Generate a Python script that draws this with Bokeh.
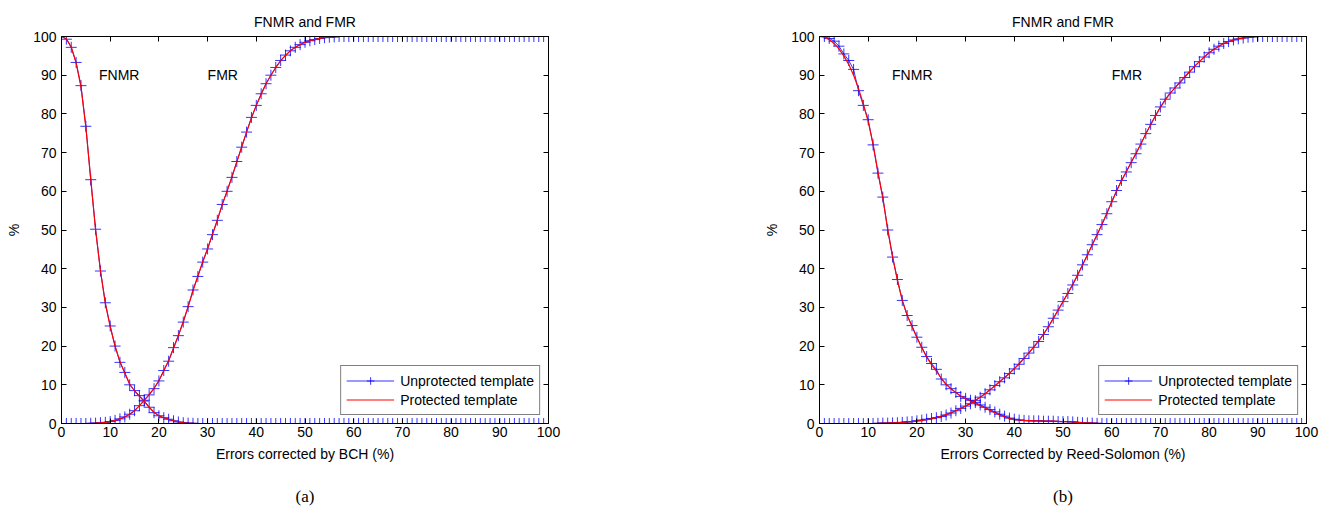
from bokeh.plotting import figure
from bokeh.models import Range1d, LinearAxis, Legend, LegendItem, Title, FixedTicker
from bokeh.layouts import row
from bokeh.embed import file_html
from bokeh.resources import INLINE
from bokeh.core.properties import value

# ---------------- data ----------------
errors_pct = list(range(0, 101))
x_ticks = [0, 10, 20, 30, 40, 50, 60, 70, 80, 90, 100]
y_ticks = [0, 10, 20, 30, 40, 50, 60, 70, 80, 90, 100]

# (a) BCH
bch_fnmr_unprot = [
    100, 99.3, 97.2, 93.3, 87.3, 76.8, 63.0, 50.2, 39.4, 31.2,
    25.2, 20.0, 15.8, 13.2, 10.0, 8.5, 7.2, 5.8, 4.2, 2.8,
    2.0, 1.5, 1.1, 0.7, 0.4, 0.2, 0.1, 0.05, 0, 0,
    0, 0, 0, 0, 0, 0, 0, 0, 0, 0,
    0, 0, 0, 0, 0, 0, 0, 0, 0, 0,
    0, 0, 0, 0, 0, 0, 0, 0, 0, 0,
    0, 0, 0, 0, 0, 0, 0, 0, 0, 0,
    0, 0, 0, 0, 0, 0, 0, 0, 0, 0,
    0, 0, 0, 0, 0, 0, 0, 0, 0, 0,
    0, 0, 0, 0, 0, 0, 0, 0, 0, 0,
    0]
bch_fmr_unprot = [
    0, 0, 0, 0, 0, 0, 0.05, 0.1, 0.2, 0.3,
    0.5, 0.8, 1.2, 1.7, 2.4, 3.3, 4.6, 6.0, 7.4, 9.0,
    11.0, 13.7, 16.1, 19.6, 22.7, 26.2, 30.2, 34.5, 38.0, 41.7,
    45.1, 48.8, 52.5, 56.6, 60.0, 63.6, 67.7, 71.4, 75.3, 79.1,
    82.2, 85.2, 87.8, 90.0, 92.0, 93.8, 95.2, 96.3, 97.2, 97.9,
    98.5, 98.9, 99.2, 99.5, 99.7, 99.8, 99.9, 100, 100, 100,
    100, 100, 100, 100, 100, 100, 100, 100, 100, 100,
    100, 100, 100, 100, 100, 100, 100, 100, 100, 100,
    100, 100, 100, 100, 100, 100, 100, 100, 100, 100,
    100, 100, 100, 100, 100, 100, 100, 100, 100, 100,
    100]
bch_fnmr_prot = [
    100, 99.4, 97.3, 93.2, 87.0, 76.6, 63.2, 50.0, 39.5, 31.0,
    25.0, 20.0, 16.0, 13.0, 10.2, 8.4, 7.0, 5.7, 4.2, 2.9,
    2.0, 1.5, 1.1, 0.7, 0.4, 0.2, 0.1, 0.05, 0, 0,
    0, 0, 0, 0, 0, 0, 0, 0, 0, 0,
    0, 0, 0, 0, 0, 0, 0, 0, 0, 0,
    0, 0, 0, 0, 0, 0, 0, 0, 0, 0,
    0, 0, 0, 0, 0, 0, 0, 0, 0, 0,
    0, 0, 0, 0, 0, 0, 0, 0, 0, 0,
    0, 0, 0, 0, 0, 0, 0, 0, 0, 0,
    0, 0, 0, 0, 0, 0, 0, 0, 0, 0,
    0]
bch_fmr_prot = [
    0, 0, 0, 0, 0, 0, 0.05, 0.1, 0.2, 0.3,
    0.5, 0.8, 1.2, 1.7, 2.4, 3.3, 4.6, 6.0, 7.5, 9.1,
    11.1, 13.6, 16.3, 19.4, 22.8, 26.3, 30.2, 34.3, 38.1, 41.8,
    45.2, 48.9, 52.6, 56.5, 60.1, 63.8, 67.6, 71.5, 75.3, 78.9,
    82.2, 85.1, 87.8, 90.0, 92.0, 93.7, 95.1, 96.3, 97.2, 97.9,
    98.5, 98.9, 99.2, 99.5, 99.7, 99.8, 99.9, 100, 100, 100,
    100, 100, 100, 100, 100, 100, 100, 100, 100, 100,
    100, 100, 100, 100, 100, 100, 100, 100, 100, 100,
    100, 100, 100, 100, 100, 100, 100, 100, 100, 100,
    100, 100, 100, 100, 100, 100, 100, 100, 100, 100,
    100]

# (b) Reed-Solomon
rs_fnmr_unprot = [
    100, 100, 99.5, 98.8, 97.5, 95.5, 93.8, 91.5, 86.0, 82.2,
    78.5, 72.0, 64.7, 58.5, 50.0, 43.0, 37.2, 31.8, 27.9, 25.3,
    22.3, 19.7, 17.3, 15.5, 14.0, 11.5, 10.0, 9.0, 8.0, 7.0,
    6.5, 6.0, 5.4, 4.8, 4.2, 3.6, 3.0, 2.4, 1.9, 1.4,
    1.1, 0.9, 0.8, 0.7, 0.7, 0.7, 0.6, 0.6, 0.6, 0.5,
    0.5, 0.5, 0.4, 0.3, 0.2, 0.15, 0.1, 0.05, 0, 0,
    0, 0, 0, 0, 0, 0, 0, 0, 0, 0,
    0, 0, 0, 0, 0, 0, 0, 0, 0, 0,
    0, 0, 0, 0, 0, 0, 0, 0, 0, 0,
    0, 0, 0, 0, 0, 0, 0, 0, 0, 0,
    0]
rs_fmr_unprot = [
    0, 0, 0, 0, 0, 0, 0, 0, 0, 0,
    0, 0, 0.05, 0.1, 0.1, 0.15, 0.2, 0.3, 0.4, 0.5,
    0.7, 0.9, 1.1, 1.3, 1.5, 1.8, 2.2, 2.7, 3.3, 3.9,
    4.5, 5.1, 5.9, 6.8, 7.7, 8.7, 9.8, 10.8, 11.8, 12.9,
    14.1, 15.3, 16.8, 18.2, 19.7, 21.2, 23.0, 25.0, 27.2, 29.3,
    31.5, 33.6, 35.8, 38.3, 41.0, 43.6, 46.2, 48.8, 51.4, 54.2,
    57.3, 60.2, 62.8, 65.0, 67.4, 69.7, 72.2, 74.9, 77.3, 79.6,
    81.8, 83.8, 85.4, 86.7, 88.0, 89.4, 90.8, 92.2, 93.5, 94.7,
    95.8, 96.7, 97.5, 98.2, 98.7, 99.1, 99.4, 99.6, 99.8, 99.9,
    100, 100, 100, 100, 100, 100, 100, 100, 100, 100,
    100]
rs_fnmr_prot = [
    100, 99.8, 99.2, 98.2, 96.8, 95.0, 92.8, 90.0, 86.6, 82.6,
    78.0, 72.2, 65.0, 58.3, 50.3, 43.2, 37.0, 31.8, 28.0, 25.0,
    22.2, 19.6, 17.2, 15.2, 13.5, 11.7, 10.2, 9.0, 8.0, 7.1,
    6.4, 5.8, 5.2, 4.6, 4.0, 3.4, 2.8, 2.2, 1.7, 1.3,
    1.0, 0.9, 0.8, 0.75, 0.7, 0.7, 0.65, 0.6, 0.6, 0.55,
    0.5, 0.45, 0.4, 0.3, 0.2, 0.15, 0.1, 0.05, 0, 0,
    0, 0, 0, 0, 0, 0, 0, 0, 0, 0,
    0, 0, 0, 0, 0, 0, 0, 0, 0, 0,
    0, 0, 0, 0, 0, 0, 0, 0, 0, 0,
    0, 0, 0, 0, 0, 0, 0, 0, 0, 0,
    0]
rs_fmr_prot = [
    0, 0, 0, 0, 0, 0, 0, 0, 0, 0,
    0, 0, 0.05, 0.1, 0.1, 0.15, 0.2, 0.3, 0.4, 0.5,
    0.6, 0.8, 1.0, 1.2, 1.5, 1.9, 2.3, 2.8, 3.3, 3.9,
    4.5, 5.2, 6.0, 6.8, 7.7, 8.7, 9.7, 10.8, 11.9, 13.0,
    14.2, 15.5, 16.9, 18.3, 19.8, 21.4, 23.1, 25.0, 27.1, 29.3,
    31.5, 33.7, 36.0, 38.4, 40.9, 43.5, 46.1, 48.8, 51.5, 54.3,
    57.2, 60.0, 62.7, 65.1, 67.5, 69.9, 72.3, 74.8, 77.2, 79.5,
    81.7, 83.6, 85.3, 86.8, 88.2, 89.6, 91.0, 92.3, 93.5, 94.7,
    95.8, 96.7, 97.5, 98.2, 98.7, 99.1, 99.4, 99.6, 99.8, 99.9,
    100, 100, 100, 100, 100, 100, 100, 100, 100, 100,
    100]

FONT = "Liberation Sans"
BLUE = "#0000ff"
RED = "#ff0000"


def make_panel(xlabel, caption, fnmr_u, fmr_u, fnmr_p, fmr_p,
               fnmr_lx, fmr_lx, border_right):
    p = figure(output_backend="svg", toolbar_location=None,
               frame_width=487, frame_height=387,
               x_range=Range1d(0, 100), y_range=Range1d(0, 100),
               min_border_left=61, min_border_right=border_right,
               min_border_top=36, min_border_bottom=93,
               x_axis_location=None, y_axis_location=None)
    p.grid.visible = False
    p.outline_line_color = "black"
    p.outline_line_width = 1
    p.background_fill_color = "white"
    p.border_fill_color = "white"

    p.title = Title(text="FNMR and FMR", align="center",
                    text_font=FONT, text_font_size="14px",
                    text_font_style="normal", text_color="black",
                    standoff=14)

    # main axes
    xa = LinearAxis(ticker=FixedTicker(ticks=x_ticks), axis_label=xlabel)
    ya = LinearAxis(ticker=FixedTicker(ticks=y_ticks), axis_label="%")
    for ax in (xa, ya):
        ax.major_tick_in = 5
        ax.major_tick_out = 0
        ax.minor_tick_in = 0
        ax.minor_tick_out = 0
        ax.axis_line_color = "black"
        ax.major_tick_line_color = "black"
        ax.major_label_text_font = FONT
        ax.major_label_text_font_size = "14px"
        ax.major_label_text_color = "black"
        ax.axis_label_text_font = FONT
        ax.axis_label_text_font_size = "14px"
        ax.axis_label_text_font_style = "normal"
        ax.axis_label_text_color = "black"
    xa.major_label_standoff = 3
    xa.axis_label_standoff = 6
    ya.major_label_standoff = 5
    ya.axis_label_standoff = 8
    p.add_layout(xa, "below")
    p.add_layout(ya, "left")

    # tick-only box axes (top / right)
    xt = LinearAxis(ticker=FixedTicker(ticks=x_ticks))
    yr = LinearAxis(ticker=FixedTicker(ticks=y_ticks))
    for ax in (xt, yr):
        ax.major_tick_in = 5
        ax.major_tick_out = 0
        ax.minor_tick_in = 0
        ax.minor_tick_out = 0
        ax.axis_line_color = "black"
        ax.major_label_text_font_size = "0px"
        ax.major_label_text_color = None
        ax.major_label_standoff = 0
    p.add_layout(xt, "above")
    p.add_layout(yr, "right")

    # unprotected (blue, + markers)
    lu1 = p.line(errors_pct, fnmr_u, line_color=BLUE, line_width=1, line_alpha=0.8)
    su1 = p.scatter(errors_pct, fnmr_u, marker="cross", size=11, line_color=BLUE,
                    line_width=1, line_alpha=0.8)
    lu2 = p.line(errors_pct, fmr_u, line_color=BLUE, line_width=1, line_alpha=0.8)
    su2 = p.scatter(errors_pct, fmr_u, marker="cross", size=11, line_color=BLUE,
                    line_width=1, line_alpha=0.8)
    # protected (red line)
    lp1 = p.line(errors_pct, fnmr_p, line_color=RED, line_width=1.2)
    lp2 = p.line(errors_pct, fmr_p, line_color=RED, line_width=1.2)

    p.text(x=[fnmr_lx], y=[90], text=["FNMR"], text_font=value(FONT),
           text_font_size="14px", text_align="left", text_baseline="middle",
           text_color="black")
    p.text(x=[fmr_lx], y=[90], text=["FMR"], text_font=value(FONT),
           text_font_size="14px", text_align="left", text_baseline="middle",
           text_color="black")

    legend = Legend(items=[
        LegendItem(label="Unprotected template", renderers=[lu1, su1]),
        LegendItem(label="Protected template", renderers=[lp1]),
    ], location="bottom_right")
    legend.label_text_font = FONT
    legend.label_text_font_size = "14px"
    legend.label_text_color = "black"
    legend.glyph_width = 48
    legend.glyph_height = 19
    legend.label_height = 19
    legend.label_standoff = 6
    legend.spacing = 0
    legend.padding = 5
    legend.margin = 8
    legend.border_line_color = "black"
    legend.border_line_width = 1.2
    legend.background_fill_color = "white"
    legend.background_fill_alpha = 1
    p.add_layout(legend, "center")

    cap = Title(text=caption, align="center", text_font="Liberation Serif",
                text_font_size="17px", text_font_style="normal",
                text_color="black", standoff=40)
    p.add_layout(cap, "below")
    return p


p1 = make_panel("Errors corrected by BCH (%)", "(a)",
                bch_fnmr_unprot, bch_fmr_unprot, bch_fnmr_prot, bch_fmr_prot,
                7.7, 30.0, 210)
p2 = make_panel("Errors Corrected by Reed-Solomon (%)", "(b)",
                rs_fnmr_unprot, rs_fmr_unprot, rs_fnmr_prot, rs_fmr_prot,
                14.9, 60.0, 19)

layout = row(p1, p2, spacing=0)
open("out.html", "w").write(file_html(layout, INLINE))
